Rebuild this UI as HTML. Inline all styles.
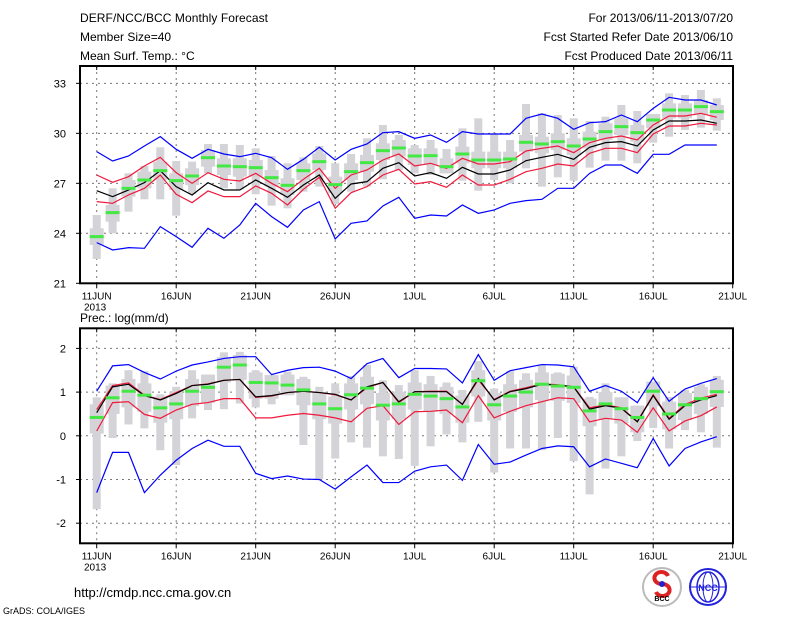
<!DOCTYPE html>
<html><head><meta charset="utf-8">
<style>
html,body{margin:0;padding:0;background:#fff;}
svg{display:block;font-family:"Liberation Sans",sans-serif;}
</style></head>
<body>
<svg id="chart" width="800" height="618" viewBox="0 0 800 618">
<rect width="800" height="618" fill="#fff"/>
<g font-size="12" fill="#000">
<text x="80" y="22" textLength="188">DERF/NCC/BCC Monthly Forecast</text>
<text x="80" y="41">Member Size=40</text>
<text x="80" y="60">Mean Surf. Temp.: °C</text>
<text x="733" y="22" text-anchor="end">For 2013/06/11-2013/07/20</text>
<text x="733" y="41" text-anchor="end">Fcst Started Refer Date 2013/06/10</text>
<text x="733" y="60" text-anchor="end">Fcst Produced Date 2013/06/11</text>
</g>
<g id="top"></g>
<g id="bot"></g>
<text x="80" y="322" font-size="12">Prec.: log(mm/d)</text>
<text x="74" y="597" font-size="13">http://cmdp.ncc.cma.gov.cn</text>
<text x="3" y="614" font-size="9">GrADS: COLA/IGES</text>
<g>
<circle cx="662" cy="587" r="19" fill="#fff" stroke="#bbb" stroke-width="2"/>
<path d="M668 576 a7 6 0 1 0 -6 8 a7 6 0 1 1 -6 8" fill="none" stroke="#d22" stroke-width="4"/>
<circle cx="662" cy="584" r="3" fill="#22c"/>
<text x="662" y="601" font-size="7" text-anchor="middle" font-weight="bold">BCC</text>
</g>
<g>
<circle cx="708" cy="587" r="18" fill="#fff" stroke="#22d" stroke-width="2"/>
<ellipse cx="708" cy="587" rx="11" ry="15" fill="none" stroke="#22d" stroke-width="1.5"/>
<ellipse cx="708" cy="587" rx="5" ry="15" fill="none" stroke="#22d" stroke-width="1"/>
<line x1="690" y1="587" x2="726" y2="587" stroke="#22d"/>
<text x="708" y="591" font-size="9" text-anchor="middle" fill="#22d" font-weight="bold">NCC</text>
</g>
</svg>
<script>
// Temperature panel data (°C), days 2013-06-11 .. 2013-07-20
const tBlueHi=[28.9,28.34,28.64,29.24,29.8,29.04,28.5,29.04,28.76,28.6,28.8,28.54,27.84,28.44,29.16,28.4,29.04,29.36,30.04,30.1,29.7,29.9,29.46,30.1,29.96,29.96,29.96,30.9,31.16,30.9,30.24,30.64,30.7,31.1,30.7,31.5,32.16,32.0,32.0,31.7];
const tRedHi=[27.5,27.06,27.4,28.04,28.56,27.64,27.0,27.64,27.24,27.14,27.6,27.0,26.5,27.24,27.9,26.7,27.5,27.8,28.4,28.76,28.04,28.2,27.9,28.5,28.16,28.16,28.3,28.94,29.1,29.24,28.84,29.44,29.7,29.84,29.6,30.5,31.04,31.04,31.2,30.96];
const tMean=[26.56,26.2,26.6,27.04,27.76,26.8,26.3,27.04,26.6,26.6,27.2,26.7,26.16,26.9,27.5,26.1,26.96,27.1,27.9,28.24,27.44,27.64,27.3,27.96,27.56,27.56,27.8,28.36,28.56,28.74,28.44,29.16,29.44,29.5,29.24,30.2,30.74,30.74,30.8,30.6];
const tRedLo=[25.9,25.8,26.3,26.7,27.5,26.34,25.84,26.54,26.2,26.2,26.84,26.4,25.7,26.64,27.36,25.5,26.44,26.8,27.5,27.84,26.96,27.1,26.76,27.5,26.9,26.9,27.24,27.7,27.9,28.16,28.04,28.8,29.1,29.1,28.84,29.96,30.44,30.44,30.6,30.5];
const tBlueLo=[23.44,23.0,23.14,23.1,24.4,23.8,23.16,24.3,23.7,24.5,25.8,25.0,24.36,25.4,25.9,23.66,24.6,24.74,25.64,26.16,24.9,25.1,25.04,25.7,25.2,25.4,25.8,25.96,26.04,26.7,26.7,27.6,28.1,28.1,27.6,28.74,28.74,29.3,29.3,29.3];
const tGreen=[23.8,25.24,26.7,27.2,27.76,27.16,27.44,28.54,28.04,28.0,27.94,27.34,26.88,27.76,28.3,26.92,27.7,28.24,28.96,29.12,28.64,28.66,28.0,28.76,28.4,28.4,28.46,29.46,29.36,29.5,29.24,29.66,30.1,30.4,30.04,30.8,31.4,31.4,31.6,31.3];
const tBarHi=[25.1,26.7,27.6,28.04,29.16,28.34,28.3,29.36,29.36,29.3,29.1,28.64,28.2,28.56,29.24,28.2,28.76,29.7,30.5,29.9,29.3,29.6,29.06,30.3,30.9,30.0,29.6,31.76,31.2,31.1,30.9,30.74,31.0,31.7,31.34,31.16,32.4,32.3,32.6,32.1];
const tBarLo=[22.46,24.0,25.3,26.04,26.04,25.06,26.36,27.6,26.7,26.64,26.34,25.66,25.5,26.5,26.8,25.76,26.5,26.8,27.24,27.8,27.6,27.5,27.6,27.16,26.56,27.2,27.0,27.9,26.8,27.36,27.16,27.94,28.36,28.36,28.2,29.44,29.8,30.2,30.34,30.16];
const tBoxHi=[24.3,25.7,27.2,27.7,28.3,27.6,27.9,29.0,28.5,28.5,28.4,27.8,27.3,28.2,28.8,27.4,28.2,28.7,29.4,29.6,29.1,29.1,28.5,29.2,28.9,28.9,28.9,29.9,29.8,30.0,29.7,30.1,30.6,30.9,30.5,31.2,31.8,31.8,32.0,31.7];
const tBoxLo=[23.3,24.7,26.2,26.7,27.2,26.6,26.9,28.0,27.5,27.4,27.4,26.8,26.3,27.2,27.8,26.4,27.2,27.7,28.4,28.6,28.1,28.1,27.5,28.2,27.9,27.9,27.9,28.9,28.8,29.0,28.7,29.1,29.6,29.9,29.5,30.3,30.9,30.9,31.1,30.8];
const tTicks=[21,24,27,30,33];
// Precipitation panel data (log mm/d)
const pBlueHi=[1.02,1.60,1.63,1.45,1.30,1.48,1.62,1.69,1.77,1.81,1.81,1.40,1.50,1.56,1.57,1.48,1.31,1.65,1.77,1.33,1.54,1.54,1.53,1.21,1.86,1.27,1.49,1.56,1.63,1.62,1.58,1.02,1.15,1.02,0.76,1.33,0.79,1.07,1.20,1.31];
const pRedHi=[0.60,1.15,1.21,0.93,0.83,0.99,1.15,1.19,1.27,1.29,0.88,0.91,0.99,1.02,0.99,0.94,0.82,1.10,1.22,0.76,1.01,1.02,1.02,0.72,1.28,0.83,1.02,1.10,1.19,1.17,1.12,0.64,0.71,0.64,0.33,0.94,0.40,0.72,0.86,0.95];
const pMean=[0.53,1.12,1.18,0.92,0.82,0.97,1.15,1.18,1.27,1.29,0.89,0.92,0.99,1.02,0.99,0.95,0.82,1.12,1.22,0.78,1.01,1.01,1.01,0.72,1.31,0.82,1.01,1.08,1.18,1.16,1.12,0.61,0.69,0.63,0.32,0.92,0.38,0.69,0.82,0.92];
const pRedLo=[0.11,0.76,0.78,0.49,0.40,0.59,0.72,0.76,0.85,0.85,0.41,0.41,0.47,0.51,0.47,0.41,0.32,0.63,0.69,0.26,0.55,0.56,0.59,0.30,0.92,0.41,0.56,0.69,0.78,0.87,0.85,0.32,0.40,0.36,0.08,0.64,0.11,0.34,0.46,0.66];
const pBlueLo=[-1.30,-0.38,-0.38,-1.30,-0.90,-0.56,-0.29,-0.10,-0.24,-0.24,-0.86,-0.98,-0.92,-0.99,-1.00,-1.22,-0.94,-0.67,-1.07,-1.07,-0.81,-0.71,-0.67,-1.02,-0.20,-0.65,-0.60,-0.44,-0.29,-0.23,-0.25,-0.71,-0.53,-0.63,-0.73,-0.06,-0.69,-0.29,-0.14,-0.02];
const pGreen=[0.42,0.87,1.02,0.93,0.64,0.73,1.02,1.11,1.57,1.62,1.22,1.21,1.16,1.05,0.73,0.62,0.94,1.09,0.70,0.73,0.95,0.91,0.85,0.66,1.26,0.71,0.91,1.00,1.18,1.14,1.11,0.57,0.73,0.62,0.42,1.02,0.50,0.71,0.85,1.01];
const pBarHi=[0.88,1.20,1.50,1.48,0.95,1.12,1.50,1.40,1.91,1.92,1.50,1.39,1.47,1.35,1.12,1.20,1.37,1.62,1.27,1.16,1.50,1.37,1.22,1.05,1.71,1.08,1.48,1.43,1.62,1.45,1.58,0.89,1.20,0.88,0.69,1.24,0.89,1.05,1.18,1.37];
const pBarLo=[-1.68,-0.05,0.26,0.17,-0.33,-0.67,0.40,0.59,0.61,0.74,0.65,0.72,0.93,-0.21,-0.99,-0.52,-0.15,-0.27,-0.47,-0.53,-0.69,-0.24,0.03,-0.15,0.32,-0.84,-0.29,-0.29,-0.33,-0.05,-0.58,-1.34,-0.75,-0.47,-0.12,0.18,-0.29,0.13,0.08,-0.27];
const pBoxHi=[0.72,1.15,1.30,1.20,0.90,1.00,1.30,1.40,1.80,1.85,1.45,1.45,1.40,1.30,1.00,0.90,1.20,1.35,0.98,1.00,1.22,1.18,1.12,0.92,1.50,0.98,1.18,1.28,1.45,1.42,1.38,0.85,1.00,0.90,0.70,1.28,0.78,0.98,1.12,1.28];
const pBoxLo=[0.05,0.5,0.65,0.55,0.3,0.38,0.68,0.75,1.22,1.28,0.85,0.85,0.8,0.7,0.38,0.28,0.6,0.72,0.35,0.38,0.6,0.55,0.5,0.3,0.9,0.35,0.55,0.65,0.82,0.8,0.75,0.22,0.38,0.28,0.08,0.68,0.15,0.36,0.5,0.66];
const pTicks=[-2,-1,0,1,2];
const xLabels=["11JUN","16JUN","21JUN","26JUN","1JUL","6JUL","11JUL","16JUL","21JUL"];

const NS="http://www.w3.org/2000/svg";
function mk(tag,attrs,parent){const e=document.createElementNS(NS,tag);for(const k in attrs)e.setAttribute(k,attrs[k]);parent.appendChild(e);return e;}
const X0=96.7, DX=15.9, L=80, R=733;
function xScale(d){return X0+d*DX;}

function drawPanel(g,top,bottom,vmin,vmax,ticks,data,prefix){
  const yS=v=>bottom-(v-vmin)/(vmax-vmin)*(bottom-top);
  ticks.forEach(t=>{
    const y=yS(t); if(y<top+1||y>bottom-1)return;
    const gl=mk('line',{x1:L,x2:R,y1:y,y2:y,stroke:'#777','stroke-dasharray':'2,4','stroke-width':1},g);
    
    
  });
  ticks.forEach(t=>{
    const tx=mk('text',{x:66,y:yS(t)+4,'font-size':11,'text-anchor':'end'},g);
    tx.textContent=String(t);
    
    
    const tk=mk('line',{x1:L-4,x2:L,y1:yS(t),y2:yS(t),stroke:'#000'},g);
    
    
  });
  xLabels.forEach((lab,i)=>{
    const x=xScale(i*5);
    if(i<8){const gl=mk('line',{x1:x,x2:x,y1:top,y2:bottom,stroke:'#777','stroke-dasharray':'2,4'},g);
    
    }
    const tk=mk('line',{x1:x,x2:x,y1:bottom,y2:bottom+5,stroke:'#000'},g);
    
    
    const tk2=mk('line',{x1:x,x2:x,y1:top,y2:top+4,stroke:'#000'},g);
    
    
    const tx=mk('text',{x:x,y:bottom+16,'font-size':10,'text-anchor':'middle'},g);
    tx.textContent=lab;
    
    
  });
  const yr=mk('text',{x:84,y:bottom+27,'font-size':10},g);
  yr.textContent='2013';
  
  
  data.barLo.forEach((lo,i)=>{
    const y1=yS(data.barHi[i]), y2=yS(lo);
    const b=mk('rect',{x:xScale(i)-4,y:y1,width:8,height:y2-y1,fill:'#d3d3d8'},g);
    
    
    const bh=Math.min(data.boxHi[i],data.barHi[i]), bl=Math.max(data.boxLo[i],lo);
    const bx=mk('rect',{x:xScale(i)-7,y:yS(bh),width:14,height:Math.max(0,yS(bl)-yS(bh)),fill:'#d3d3d8'},g);
    
    
  });
  const line=(arr,col,name)=>{
    const p=mk('polyline',{points:arr.map((v,i)=>xScale(i)+','+yS(v)).join(' '),fill:'none',stroke:col,'stroke-width':1.2},g);
    
    
  };
  line(data.blueHi,'#0000ff',prefix+'-upper-extreme-line');
  line(data.blueLo,'#0000ff',prefix+'-lower-extreme-line');
  line(data.redHi,'#f0193c',prefix+'-upper-spread-line');
  line(data.redLo,'#f0193c',prefix+'-lower-spread-line');
  line(data.mean,'#000',prefix+'-ensemble-mean-line');
  data.green.forEach((v,i)=>{
    const r=mk('rect',{x:xScale(i)-7,y:yS(v)-1.5,width:14,height:3,fill:'#44e844'},g);
    
    
  });
  const fr=mk('rect',{x:L,y:top,width:R-L,height:bottom-top,fill:'none',stroke:'#000','stroke-width':2},g);
  
  
}
drawPanel(document.getElementById('top'),66,283.3,21,34.04,tTicks,
  {blueHi:tBlueHi,redHi:tRedHi,mean:tMean,redLo:tRedLo,blueLo:tBlueLo,green:tGreen,barHi:tBarHi,barLo:tBarLo,boxHi:tBoxHi,boxLo:tBoxLo},'temp');
drawPanel(document.getElementById('bot'),328.3,543.3,-2.46,2.46,pTicks,
  {blueHi:pBlueHi,redHi:pRedHi,mean:pMean,redLo:pRedLo,blueLo:pBlueLo,green:pGreen,barHi:pBarHi,barLo:pBarLo,boxHi:pBoxHi,boxLo:pBoxLo},'prec');
</script>
</body></html>
